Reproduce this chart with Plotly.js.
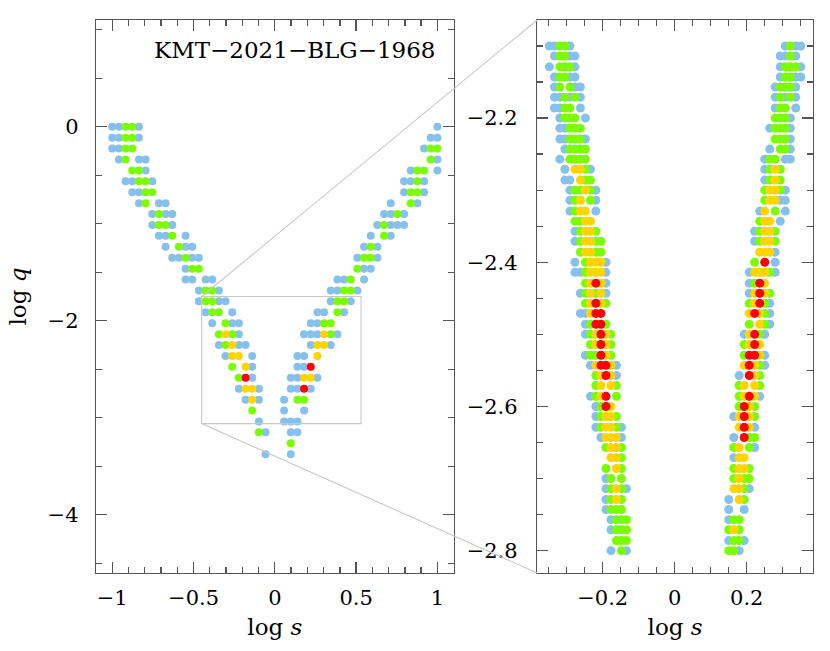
<!DOCTYPE html>
<html><head><meta charset="utf-8">
<script src="https://cdn.plot.ly/plotly-3.0.1.min.js"></script>
<style>html,body{margin:0;padding:0;background:#fff}</style>
</head><body><div id="chart" style="width:830px;height:651px"></div>
<script>
// ---------- Left panel (full grid) ----------
const mainQ = [0, -0.113, -0.225, -0.338, -0.450, -0.563, -0.675, -0.788, -0.900, -1.013,
  -1.125, -1.238, -1.350, -1.463, -1.575, -1.688, -1.800, -1.913, -2.025, -2.138,
  -2.250, -2.363, -2.475, -2.588, -2.700, -2.813, -2.925, -3.038, -3.150, -3.263, -3.375];

const mainBlue = [
  [-1.000,-0.959,-0.836,1.000],
  [-1.000,-0.959,-0.836,1.000,0.959],
  [-1.000,-0.959,0.918],
  [-0.959,-0.836,-0.795,1.000],
  [-0.795,1.000,0.836],
  [-0.918,-0.877,-0.754,0.918,0.836,0.795],
  [-0.877,-0.836,0.918,0.795],
  [-0.836,-0.713,-0.672,0.877,0.713],
  [-0.754,-0.672,-0.631,0.795,0.713,0.672],
  [-0.754,-0.631,0.795,0.754,0.713,0.631],
  [-0.713,-0.672,-0.549,0.713,0.590],
  [-0.672,-0.549,-0.508,0.631,0.549],
  [-0.631,-0.590,-0.508,-0.467,0.631,0.508],
  [-0.549,0.590,0.549],
  [-0.549,-0.508,-0.426,-0.385,0.549,0.426,0.385],
  [-0.467,-0.344,0.508,0.385,0.344],
  [-0.467,-0.344,-0.303,0.467,0.344],
  [-0.426,-0.262,0.426,0.303,0.262],
  [-0.385,-0.262,-0.221,0.262,0.221],
  [-0.221,0.385,0.262,0.221,0.180],
  [-0.344,-0.221,-0.180,0.344,0.221],
  [-0.303,-0.139,0.180,0.139],
  [-0.139,0.180,0.139],
  [-0.139,0.262,0.139,0.098],
  [-0.221,-0.098,0.221,0.139,0.098],
  [-0.180,-0.098,0.057],
  [0.180,0.057],
  [-0.098,0.139,0.098,0.057],
  [-0.057,0.139,0.098],
  [],
  [-0.057,0.098]
];
const mainGreen = [
  [-0.918,-0.877],
  [-0.918,-0.877],
  [-0.918,-0.877,1.000,0.959],
  [-0.918,0.959],
  [-0.877,-0.836,0.918,0.877],
  [-0.836,-0.795,0.877],
  [-0.795,-0.754,0.877,0.836],
  [-0.795,0.836],
  [-0.713,0.754],
  [-0.713,-0.672,0.672],
  [-0.631,0.672],
  [-0.590,0.590],
  [-0.549,0.590,0.549],
  [-0.508,-0.467,0.508],
  [0.467],
  [-0.426,-0.385,0.467,0.426],
  [-0.426,-0.385,0.426,0.385],
  [-0.385,-0.344,0.385],
  [-0.303,0.344,0.303],
  [-0.344,-0.262,0.344],
  [-0.303],
  [],
  [-0.262],
  [-0.221],
  [],
  [0.180,0.139],
  [-0.139],
  [],
  [-0.098],
  [0.098],
  []
];
const mainGold = [
  [],[],[],[],[],[],[],[],[],[],
  [],[],[],[],[],[],[],[],[],
  [-0.303,0.303],
  [-0.262,0.303,0.262],
  [-0.262,-0.221,0.262],
  [-0.180],
  [0.221,0.180],
  [-0.180,-0.139],
  [-0.139],
  [],[],[],[],[]
];
const mainRed = [
  [],[],[],[],[],[],[],[],[],[],
  [],[],[],[],[],[],[],[],[],[],
  [],[],
  [0.221],
  [-0.180],
  [0.180],
  [],[],[],[],[],[]
];

// ---------- Right panel (zoomed grid) ----------
const zoomQ = [-2.100, -2.114, -2.129, -2.143, -2.157, -2.171, -2.186, -2.200, -2.214, -2.229,
  -2.243, -2.257, -2.271, -2.286, -2.300, -2.314, -2.329, -2.343, -2.357, -2.371,
  -2.386, -2.400, -2.414, -2.429, -2.443, -2.457, -2.471, -2.486, -2.500, -2.514,
  -2.529, -2.543, -2.557, -2.571, -2.586, -2.600, -2.614, -2.629, -2.643, -2.657,
  -2.671, -2.686, -2.700, -2.714, -2.729, -2.743, -2.757, -2.771, -2.786, -2.800];

const zoomBlue = [
  [-0.348,-0.334,-0.291,0.307,0.336,0.350],
  [-0.334,-0.291,-0.277,0.293,0.307,0.336],
  [-0.348,-0.277,0.293,0.350],
  [-0.334,-0.291,-0.277,0.293,0.336,0.350],
  [-0.334,-0.277,-0.262,0.279,0.336],
  [-0.334,-0.319,-0.291,-0.262,0.279,0.307,0.336],
  [-0.334,-0.319,-0.262,0.279,0.336],
  [-0.319,-0.248,0.321],
  [-0.319,-0.305,0.264,0.321],
  [-0.319,-0.305,-0.248,0.321],
  [-0.305,0.264,0.321],
  [-0.319,0.250,0.307,0.321],
  [-0.305,-0.234,0.250],
  [-0.305,-0.291,0.250],
  [-0.291,-0.219,0.307],
  [-0.291,-0.219,0.293,0.307],
  [-0.291,-0.219,0.236,0.307],
  [0.293],
  [-0.277,0.222],
  [-0.277,0.222],
  [0.279],
  [-0.277,-0.191,0.279],
  [-0.277,-0.262,-0.191,0.207,0.279],
  [-0.191,0.207],
  [-0.262,-0.191,0.207],
  [0.264],
  [-0.262,-0.248,0.264],
  [-0.248,0.264],
  [-0.248,0.193,0.250],
  [],
  [-0.248,0.250],
  [-0.234,-0.162,0.250],
  [-0.162,0.179],
  [],
  [-0.234,0.236],
  [-0.219],
  [-0.219,0.164],
  [-0.219,-0.148,0.222],
  [-0.205,-0.148,0.164],
  [0.222],
  [0.164],
  [],
  [-0.191],
  [-0.191,-0.134,0.207],
  [-0.191,0.150],
  [-0.191,0.150,0.193],
  [-0.177,0.150],
  [-0.177],
  [0.150,0.193],
  [-0.177,-0.134,0.179]
];
const zoomGreen = [
  [-0.319,-0.305,0.321],
  [-0.319,-0.305,0.321],
  [-0.319,-0.305,-0.291,0.307,0.321,0.336],
  [-0.319,-0.305,0.307,0.321],
  [-0.319,-0.291,0.293,0.307,0.321],
  [-0.305,-0.277,0.293,0.321],
  [-0.305,-0.291,0.293,0.307],
  [-0.305,-0.291,-0.277,0.279,0.293,0.307],
  [-0.291,-0.277,-0.262,0.279,0.293,0.307],
  [-0.291,-0.277,-0.262,0.279,0.293,0.307],
  [-0.291,-0.277,-0.262,-0.248,0.293,0.307],
  [-0.291,-0.277,-0.262,-0.248,0.264,0.279],
  [-0.248,0.264,0.293],
  [-0.248,-0.234,0.264,0.293],
  [-0.277,-0.262,-0.234,0.250,0.293],
  [-0.277,-0.234,0.250],
  [-0.277,0.279],
  [-0.277,-0.262,0.236],
  [-0.262,-0.219,0.236,0.279],
  [-0.262,-0.219,-0.205,0.236,0.279],
  [-0.262,-0.219,-0.205],
  [-0.248,0.222],
  [-0.248,0.264],
  [-0.248,0.222],
  [-0.248,-0.219,0.264],
  [-0.248,-0.191,0.207,0.250],
  [0.250],
  [-0.234,-0.191,0.207,0.250],
  [-0.234,-0.177,0.236],
  [-0.234,-0.177,0.193],
  [-0.234,-0.219,-0.177,0.193],
  [0.236],
  [-0.219,0.236],
  [-0.219,-0.162,0.179,0.236],
  [-0.219,-0.162,0.179],
  [-0.205,0.179,0.222],
  [-0.205,-0.162,0.222],
  [-0.205,-0.162],
  [0.207,0.222],
  [-0.191,-0.148,0.164,0.207],
  [-0.148],
  [-0.191,-0.148,0.164,0.207],
  [-0.177,-0.148,0.164,0.193,0.207],
  [-0.177,-0.148,0.193],
  [-0.177,-0.148,0.193],
  [-0.177,-0.162,-0.148],
  [-0.162,-0.148,-0.134,0.164,0.179],
  [-0.162,-0.148,-0.134,0.150,0.179],
  [-0.162,-0.148,-0.134,0.164,0.179],
  [-0.148,0.150,0.164]
];
const zoomGold = [
  [],[],[],[],[],[],[],[],[],[],[],[],
  [-0.277,-0.262,0.279],
  [-0.262,0.279],
  [-0.248,0.264,0.279],
  [-0.262,0.264,0.279],
  [-0.262,-0.248,0.250],
  [-0.248,-0.234,0.250,0.264],
  [-0.248,-0.234,0.250,0.264],
  [-0.248,-0.234,0.250,0.264],
  [-0.248,-0.234,0.236,0.250,0.264],
  [-0.234,-0.219,-0.205],
  [-0.234,-0.219,-0.205,0.222,0.236,0.250],
  [-0.234,-0.205,0.250],
  [-0.234,-0.205,0.222,0.250],
  [-0.234,-0.205,0.222],
  [-0.234,0.207,0.236],
  [0.236],
  [-0.219,-0.191,0.207],
  [-0.219,-0.191,0.207,0.236],
  [-0.191,0.236],
  [-0.219,-0.177,0.193,0.222],
  [-0.205,-0.177,0.222],
  [-0.205,-0.177,0.193,0.222],
  [-0.205,0.193,0.222],
  [-0.177,0.207],
  [-0.191,-0.177,0.179,0.207],
  [-0.191,-0.177,0.179,0.207],
  [-0.191,-0.177,-0.162],
  [-0.177,-0.162,0.179],
  [-0.177,-0.162,0.179,0.193],
  [-0.162,0.179,0.193],
  [0.179],
  [-0.162,0.164,0.179],
  [-0.162,0.179],
  [],
  [],
  [0.164],
  [],
  []
];
const zoomRed = [
  [],[],[],[],[],[],[],[],[],[],
  [],[],[],[],[],[],[],[],[],[],
  [],
  [0.250],
  [],
  [-0.219,0.236],
  [0.236],
  [-0.219,0.236],
  [-0.219,-0.205,0.222],
  [-0.219,-0.205],
  [-0.205,0.222],
  [-0.205,0.222],
  [-0.205,0.207,0.222],
  [-0.205,-0.191,0.207],
  [-0.191,0.207],
  [],
  [-0.191,0.207],
  [-0.191,0.193],
  [0.193],
  [0.193],
  [0.193],
  [],
  [],[],[],[],[],[],[],[],[],[]
];

// zoom box drawn on the left panel (data coords)
const boxS = [-0.45, 0.53];
const boxQ = [-3.06, -1.75];

const colors = {blue:'#86c1ee', green:'#7cfc00', gold:'#ffd400', red:'#ff0000'};

function flat(qs, rows){
  const x=[], y=[];
  rows.forEach((r,i)=>r.forEach(s=>{x.push(s); y.push(qs[i]);}));
  return {x, y};
}
function tr(qs, rows, col, xa, ya, size){
  const d = flat(qs, rows);
  return {type:'scatter', mode:'markers', x:d.x, y:d.y, xaxis:xa, yaxis:ya,
    marker:{color:col, size:size, line:{width:0}}, hoverinfo:'skip', showlegend:false};
}

const traces = [
  tr(mainQ, mainBlue, colors.blue, 'x', 'y', 8),
  tr(mainQ, mainGreen, colors.green, 'x', 'y', 8),
  tr(mainQ, mainGold, colors.gold, 'x', 'y', 8),
  tr(mainQ, mainRed, colors.red, 'x', 'y', 8),
  tr(zoomQ, zoomBlue, colors.blue, 'x2', 'y2', 9),
  tr(zoomQ, zoomGreen, colors.green, 'x2', 'y2', 9),
  tr(zoomQ, zoomGold, colors.gold, 'x2', 'y2', 9),
  tr(zoomQ, zoomRed, colors.red, 'x2', 'y2', 9)
];

const fontFam = 'DejaVu Serif, Liberation Serif, serif';
const lineCol = '#555';
function ax(extra, minorD){
  return Object.assign({
    showline:true, mirror:'allticks', linecolor:lineCol, linewidth:1.3,
    ticks:'inside', ticklen:11, tickwidth:1.3, tickcolor:lineCol,
    showgrid:false, zeroline:false,
    tickfont:{family:fontFam, size:21, color:'#000'},
    minor:{ticks:'inside', ticklen:6, tickwidth:1.3, tickcolor:lineCol, dtick:minorD, showgrid:false}
  }, extra);
}

const xr1 = [-1.1, 1.1], yr1 = [-4.6, 1.1];
const xr2 = [-0.382, 0.384], yr2 = [-2.831, -2.064];
const xd1 = [0, 0.4988], xd2 = [0.6153, 1];

const layout = {
  width:830, height:651,
  margin:{l:96, r:17, t:20, b:78},
  paper_bgcolor:'#fff', plot_bgcolor:'#fff',
  font:{family:fontFam, color:'#000'},
  xaxis: ax({domain:xd1, range:xr1, tick0:0, dtick:0.5, anchor:'y', ticklabelstandoff:5,
    title:{text:'log <i>s</i>', font:{size:23}, standoff:10}}, 0.1),
  yaxis: ax({domain:[0,1], range:yr1, tick0:0, dtick:2, anchor:'x', ticklabelstandoff:12,
    title:{text:'log <i>q</i>', font:{size:23}, standoff:14}}, 0.5),
  xaxis2: ax({domain:xd2, range:xr2, tick0:0, dtick:0.2, anchor:'y2', ticklabelstandoff:5,
    title:{text:'log <i>s</i>', font:{size:23}, standoff:10}}, 0.05),
  yaxis2: ax({domain:[0,1], range:yr2, tick0:0, dtick:0.2, anchor:'x2', ticklabelstandoff:14}, 0.05),
  annotations:[{
    xref:'x domain', yref:'y domain', x:0.955, y:0.945, xanchor:'right', yanchor:'middle',
    text:'KMT−2021−BLG−1968', showarrow:false, font:{family:fontFam, size:23, color:'#000'}
  }],
  shapes:[]
};

function px1(s){ return xd1[0] + (s - xr1[0])/(xr1[1]-xr1[0])*(xd1[1]-xd1[0]); }
function py1(q){ return (q - yr1[0])/(yr1[1]-yr1[0]); }
const gray = {color:'#c8c8c8', width:1.1};
layout.shapes.push({type:'rect', xref:'x', yref:'y', x0:boxS[0], x1:boxS[1], y0:boxQ[0], y1:boxQ[1], line:gray});
layout.shapes.push({type:'line', xref:'paper', yref:'paper', x0:px1(boxS[0]), y0:py1(boxQ[1]), x1:xd2[0], y1:1, line:gray});
layout.shapes.push({type:'line', xref:'paper', yref:'paper', x0:px1(boxS[0]), y0:py1(boxQ[0]), x1:xd2[0], y1:0, line:gray});

Plotly.newPlot('chart', traces, layout, {staticPlot:true, displayModeBar:false});
</script>
</body></html>
